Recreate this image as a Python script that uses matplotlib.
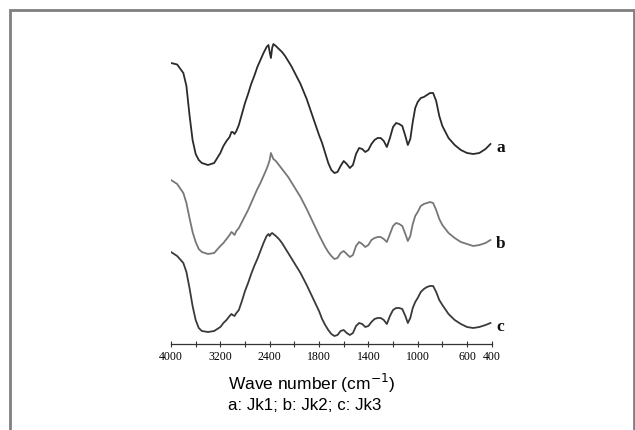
import numpy as np
import matplotlib
matplotlib.use("Agg")
import matplotlib.pyplot as plt
from matplotlib.patches import Rectangle

# wavenumber grid (cm-1) shared by the three spectra
wavenumber = [4000, 3900, 3800, 3750, 3700, 3650, 3600, 3550, 3500, 3400,
              3300, 3200, 3150, 3100, 3050, 3020, 3000, 2970, 2940, 2900,
              2850, 2800, 2750, 2700, 2650, 2600, 2550, 2500, 2450, 2420,
              2400, 2380, 2360, 2340, 2300, 2250, 2200, 2150, 2100, 2050,
              2000, 1950, 1900, 1850, 1800, 1775, 1750, 1725, 1700, 1675,
              1650, 1625, 1600, 1575, 1550, 1525, 1500, 1475, 1450, 1425,
              1400, 1375, 1350, 1325, 1300, 1275, 1250, 1225, 1200, 1175,
              1150, 1125, 1100, 1080, 1060, 1040, 1020, 1000, 975, 950,
              925, 900, 875, 850, 825, 800, 750, 700, 650, 600,
              550, 500, 450, 410]

# transmittance, arbitrary units (stacked spectra)
jk1 = [281, 279.5, 271, 258, 229, 204, 190, 184, 181, 179,
       181, 191, 198, 203, 207, 212, 212, 210, 213, 219,
       230, 241, 250, 260, 268, 277, 284, 291, 297, 299,
       292, 286, 296, 300, 298, 295, 292, 288, 283, 278,
       272, 260, 245, 227, 209, 201, 191, 181, 174, 171,
       172, 178, 183, 180, 176, 179, 190, 196, 195, 192,
       194, 200, 204, 206, 206, 203, 197, 206, 217, 221,
       220, 218, 208, 199, 205, 222, 236, 242, 246, 247,
       249, 251, 251, 243, 228, 218, 206, 199, 194, 191,
       190, 191, 195, 200]

jk2 = [164, 160, 151, 141, 126, 112, 102, 95, 92, 90,
       91, 98, 101, 105, 109, 112, 111, 109, 113, 116,
       122, 128, 134, 141, 148, 155, 161, 168, 175, 180,
       184, 191, 188, 185, 183, 179, 175, 171, 167, 162,
       157, 147, 135, 122, 109, 103, 97, 92, 88, 85,
       86, 91, 93, 90, 87, 89, 98, 102, 100, 97,
       99, 104, 106, 107, 107, 105, 102, 110, 118, 121,
       120, 118, 110, 103, 108, 120, 128, 132, 138, 140,
       141, 142, 141, 134, 125, 119, 111, 106, 102, 100,
       98, 99, 101, 104]

jk3 = [92, 88, 81, 72, 56, 38, 24, 16, 13, 12,
       13, 17, 21, 24, 28, 30, 29, 28, 31, 34,
       43, 53, 61, 70, 78, 85, 93, 101, 108, 110,
       108, 110, 111, 110, 108, 105, 101, 96, 91, 86,
       81, 71, 59, 46, 33, 25, 19, 14, 10, 8,
       9, 13, 14, 11, 9, 11, 18, 21, 20, 17,
       18, 22, 25, 26, 26, 24, 20, 28, 34, 36,
       36, 35, 28, 21, 26, 36, 42, 46, 52, 55,
       57, 58, 58, 52, 44, 39, 30, 24, 20, 17,
       16, 17, 19, 21]

series = [("a", jk1, "#2b2b2b"), ("b", jk2, "#777777"), ("c", jk3, "#3a3a3a")]

tick_major = [4000, 3200, 2400, 1800, 1400, 1000, 600, 400]
tick_minor = [3600, 2800, 2000, 1600, 1200, 800]


# FTIR style axis: 400 cm-1 per tick above 2000, 200 cm-1 per tick below
def fwd(w):
    w = np.asarray(w, dtype=float)
    return np.where(w >= 2000, 8 + (w - 2000) / 400.0, (w - 400) / 200.0)


def inv(p):
    p = np.asarray(p, dtype=float)
    return np.where(p >= 8, 2000 + (p - 8) * 400.0, 400 + p * 200.0)


fig = plt.figure(figsize=(6.35, 4.3), dpi=100)
ax = fig.add_axes([171 / 635, 86 / 430, 320.7 / 635, 304 / 430])

for name, vals, col in series:
    ax.plot(wavenumber, vals, color=col, lw=1.3)
    ax.annotate(name, xy=(wavenumber[-1], vals[-1] - 4), xytext=(4, 0),
                textcoords="offset points", va="center", ha="left",
                fontsize=12.5, fontweight="bold", family="Liberation Serif",
                color="#111111", annotation_clip=False)

ax.set_xscale("function", functions=(fwd, inv))
ax.set_xlim(4000, 400)
ax.set_ylim(0, 304)

ax.set_xticks(tick_major)
ax.set_xticklabels([str(t) for t in tick_major], family="Liberation Serif",
                   fontsize=8.5)
ax.set_xticks(tick_minor, minor=True)
ax.tick_params(axis="x", which="both", direction="inout", length=4,
               width=0.8, color="#333333", pad=3)
ax.set_yticks([])
for s in ["left", "right", "top"]:
    ax.spines[s].set_visible(False)
ax.spines["bottom"].set_color("#333333")
ax.spines["bottom"].set_linewidth(0.9)

fig.text(312 / 635, 1 - 383 / 430, "Wave number (cm$^{-1}$)", ha="center",
         va="center", fontsize=12.5, family="Liberation Sans")
fig.text(305 / 635, 1 - 406 / 430, "a: Jk1; b: Jk2; c: Jk3", ha="center",
         va="center", fontsize=12.2, family="Liberation Sans")

# grey frame around the figure (open at the bottom)
fig.patches.append(Rectangle((10 / 635, -0.1), 624 / 635, 1.1 - 10 / 430,
                             transform=fig.transFigure, fill=False,
                             edgecolor="#808080", lw=2))

fig.savefig("out.png", dpi=100)
